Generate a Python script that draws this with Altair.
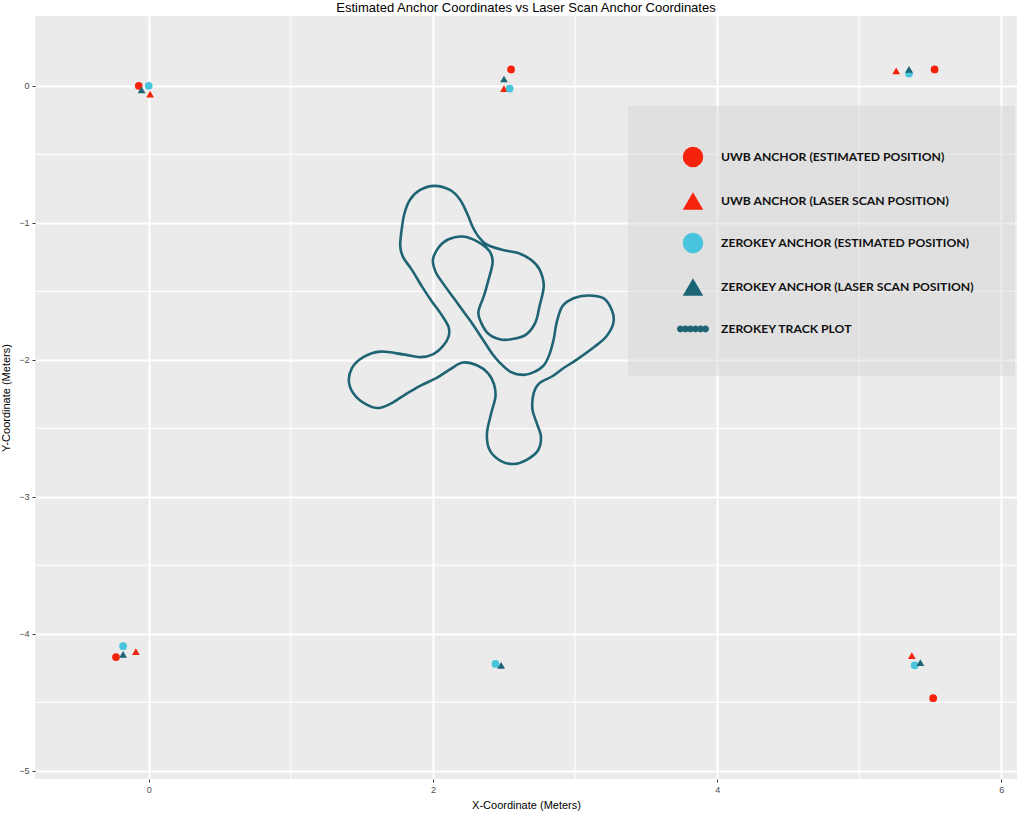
import altair as alt
import pandas as pd

chart_title = "Estimated Anchor Coordinates vs Laser Scan Anchor Coordinates"
x_title = "X-Coordinate (Meters)"
y_title = "Y-Coordinate (Meters)"

series_names = [
    "UWB ANCHOR (ESTIMATED POSITION)",
    "UWB ANCHOR (LASER SCAN POSITION)",
    "ZEROKEY ANCHOR (ESTIMATED POSITION)",
    "ZEROKEY ANCHOR (LASER SCAN POSITION)",
    "ZEROKEY TRACK PLOT",
]
series_colors = ["#F5230C", "#F5230C", "#48C4DD", "#1A6475", "#1F6474"]

# anchors
uwb_est_x = [-0.07, 2.55, 5.53, -0.23, 5.52]
uwb_est_y = [0.00, 0.12, 0.12, -4.17, -4.47]
uwb_laser_x = [0.01, 2.50, 5.26, -0.09, 5.37]
uwb_laser_y = [-0.06, -0.02, 0.11, -4.13, -4.16]
zk_est_x = [0.00, 2.54, 5.35, -0.18, 2.44, 5.39]
zk_est_y = [0.00, -0.02, 0.09, -4.09, -4.22, -4.23]
zk_laser_x = [-0.05, 2.50, 5.35, -0.18, 2.48, 5.43]
zk_laser_y = [-0.03, 0.05, 0.12, -4.15, -4.23, -4.21]

# zerokey track (closed loop)
track_x = [2.01, 1.91, 1.84, 1.80, 1.78, 1.77, 1.79, 1.85, 1.92, 1.99,
           2.06, 2.11, 2.11, 2.07, 2.00, 1.91, 1.79, 1.63, 1.51, 1.43,
           1.41, 1.46, 1.56, 1.63, 1.72, 1.81, 1.91, 2.03, 2.12, 2.21,
           2.31, 2.39, 2.43, 2.44, 2.41, 2.38, 2.40, 2.48, 2.57, 2.66,
           2.74, 2.76, 2.73, 2.70, 2.71, 2.75, 2.84, 2.92, 3.01, 3.13,
           3.22, 3.27, 3.26, 3.20, 3.09, 2.99, 2.91, 2.87, 2.85, 2.82,
           2.78, 2.71, 2.64, 2.55, 2.47, 2.42, 2.35, 2.28, 2.21, 2.14,
           2.07, 2.02, 2.00, 2.04, 2.11, 2.21, 2.32, 2.40, 2.42, 2.39,
           2.36, 2.32, 2.34, 2.39, 2.47, 2.55, 2.65, 2.72, 2.75, 2.78,
           2.75, 2.69, 2.60, 2.50, 2.38, 2.32, 2.28, 2.24, 2.19, 2.12]
track_y = [-0.73, -0.76, -0.83, -0.93, -1.05, -1.17, -1.25, -1.34, -1.46, -1.57,
           -1.67, -1.76, -1.83, -1.90, -1.96, -1.98, -1.96, -1.94, -1.98, -2.06,
           -2.17, -2.27, -2.34, -2.35, -2.31, -2.25, -2.19, -2.13, -2.07, -2.02,
           -2.04, -2.10, -2.18, -2.27, -2.39, -2.54, -2.66, -2.74, -2.76, -2.73,
           -2.66, -2.56, -2.46, -2.36, -2.24, -2.17, -2.12, -2.06, -2.00, -1.91,
           -1.83, -1.73, -1.64, -1.55, -1.53, -1.55, -1.61, -1.73, -1.85, -1.96,
           -2.04, -2.09, -2.11, -2.09, -2.02, -1.96, -1.85, -1.74, -1.64, -1.54,
           -1.44, -1.36, -1.27, -1.18, -1.12, -1.10, -1.14, -1.21, -1.29, -1.42,
           -1.53, -1.65, -1.73, -1.81, -1.85, -1.85, -1.82, -1.73, -1.61, -1.46,
           -1.34, -1.27, -1.22, -1.20, -1.16, -1.10, -1.03, -0.93, -0.83, -0.76]

x_major = [0, 2, 4, 6]
x_minor = [1, 3, 5]
y_major = [0, -1, -2, -3, -4, -5]
y_minor = [-0.5, -1.5, -2.5, -3.5, -4.5]

rows = []
for name, xs_, ys_ in [
    (series_names[0], uwb_est_x, uwb_est_y),
    (series_names[1], uwb_laser_x, uwb_laser_y),
    (series_names[2], zk_est_x, zk_est_y),
    (series_names[3], zk_laser_x, zk_laser_y),
]:
    for a, b in zip(xs_, ys_):
        rows.append({"series": name, "x": a, "y": b})
anchors = pd.DataFrame(rows)
anchors["k"] = range(len(anchors))
track = pd.DataFrame({"x": track_x, "y": track_y, "i": range(len(track_x))})

xscale = alt.Scale(domain=[-0.80, 6.11], nice=False, zero=False)
yscale = alt.Scale(domain=[-5.06, 0.51], nice=False, zero=False)

x_axis = alt.Axis(title=x_title, values=x_major, grid=True, gridColor="white", gridWidth=2,
                  domain=False, tickColor="#333333", tickSize=3, labelColor="#4D4D4D",
                  labelFontSize=9, labelPadding=3, titleFontSize=11, titleFontWeight="normal",
                  titleColor="black", titlePadding=5, format="d")
y_axis = alt.Axis(title=y_title, values=y_major, grid=True, gridColor="white", gridWidth=2,
                  domain=False, tickColor="#333333", tickSize=3, labelColor="#4D4D4D",
                  labelFontSize=9, labelPadding=3, titleFontSize=11, titleFontWeight="normal",
                  titleColor="black", titlePadding=7, format="d")

dots = ("M-1.56,0a0.33,0.33 0 1,0 0.66,0a0.33,0.33 0 1,0 -0.66,0Z"
        "M-1.07,0a0.33,0.33 0 1,0 0.66,0a0.33,0.33 0 1,0 -0.66,0Z"
        "M-0.58,0a0.33,0.33 0 1,0 0.66,0a0.33,0.33 0 1,0 -0.66,0Z"
        "M-0.08,0a0.33,0.33 0 1,0 0.66,0a0.33,0.33 0 1,0 -0.66,0Z"
        "M0.41,0a0.33,0.33 0 1,0 0.66,0a0.33,0.33 0 1,0 -0.66,0Z"
        "M0.90,0a0.33,0.33 0 1,0 0.66,0a0.33,0.33 0 1,0 -0.66,0Z")
shape_range = ["circle", "triangle-up", "circle", "triangle-up", dots]

legend = alt.Legend(title=None, orient="none", legendX=593, legendY=90,
                    fillColor="rgba(207,207,207,0.4)", padding=40, symbolSize=420,
                    labelFont="Lato", labelFontWeight="bold", labelFontSize=12.2,
                    labelColor="#111111", rowPadding=22, labelOffset=17, symbolOffset=14,
                    labelLimit=400)

minor_x_layer = alt.Chart(pd.DataFrame({"v": x_minor})).mark_rule(color="white", strokeWidth=1).encode(
    x=alt.X("v:Q", scale=xscale, axis=x_axis))
minor_y_layer = alt.Chart(pd.DataFrame({"v": y_minor})).mark_rule(color="white", strokeWidth=1).encode(
    y=alt.Y("v:Q", scale=yscale, axis=y_axis))

track_layer = alt.Chart(track).mark_line(color="#1F6474", strokeWidth=2.6,
                                         interpolate="cardinal-closed").encode(
    x=alt.X("x:Q", scale=xscale, axis=x_axis),
    y=alt.Y("y:Q", scale=yscale, axis=y_axis),
    order=alt.Order("i:Q"))

point_layer = alt.Chart(anchors).mark_point(filled=True, size=60, opacity=1).encode(
    x=alt.X("x:Q", scale=xscale, axis=x_axis),
    y=alt.Y("y:Q", scale=yscale, axis=y_axis),
    color=alt.Color("series:N", scale=alt.Scale(domain=series_names, range=series_colors), legend=legend),
    shape=alt.Shape("series:N", scale=alt.Scale(domain=series_names, range=shape_range), legend=legend),
    order=alt.Order("k:Q"))

chart = alt.layer(minor_x_layer, minor_y_layer, track_layer, point_layer).properties(
    width=982, height=763,
    title=chart_title,
    autosize=alt.AutoSizeParams(type="none"),
    padding={"left": 35, "top": 16, "right": 7, "bottom": 34},
    background="white",
).configure_view(fill="#EBEBEB", strokeWidth=0).configure_title(
    font="Liberation Sans", fontSize=13, fontWeight="normal", color="black",
    anchor="middle", offset=1
).configure_axis(labelFont="Liberation Sans", titleFont="Liberation Sans")

chart.save("out.html", embed_options={"renderer": "svg", "actions": False})
